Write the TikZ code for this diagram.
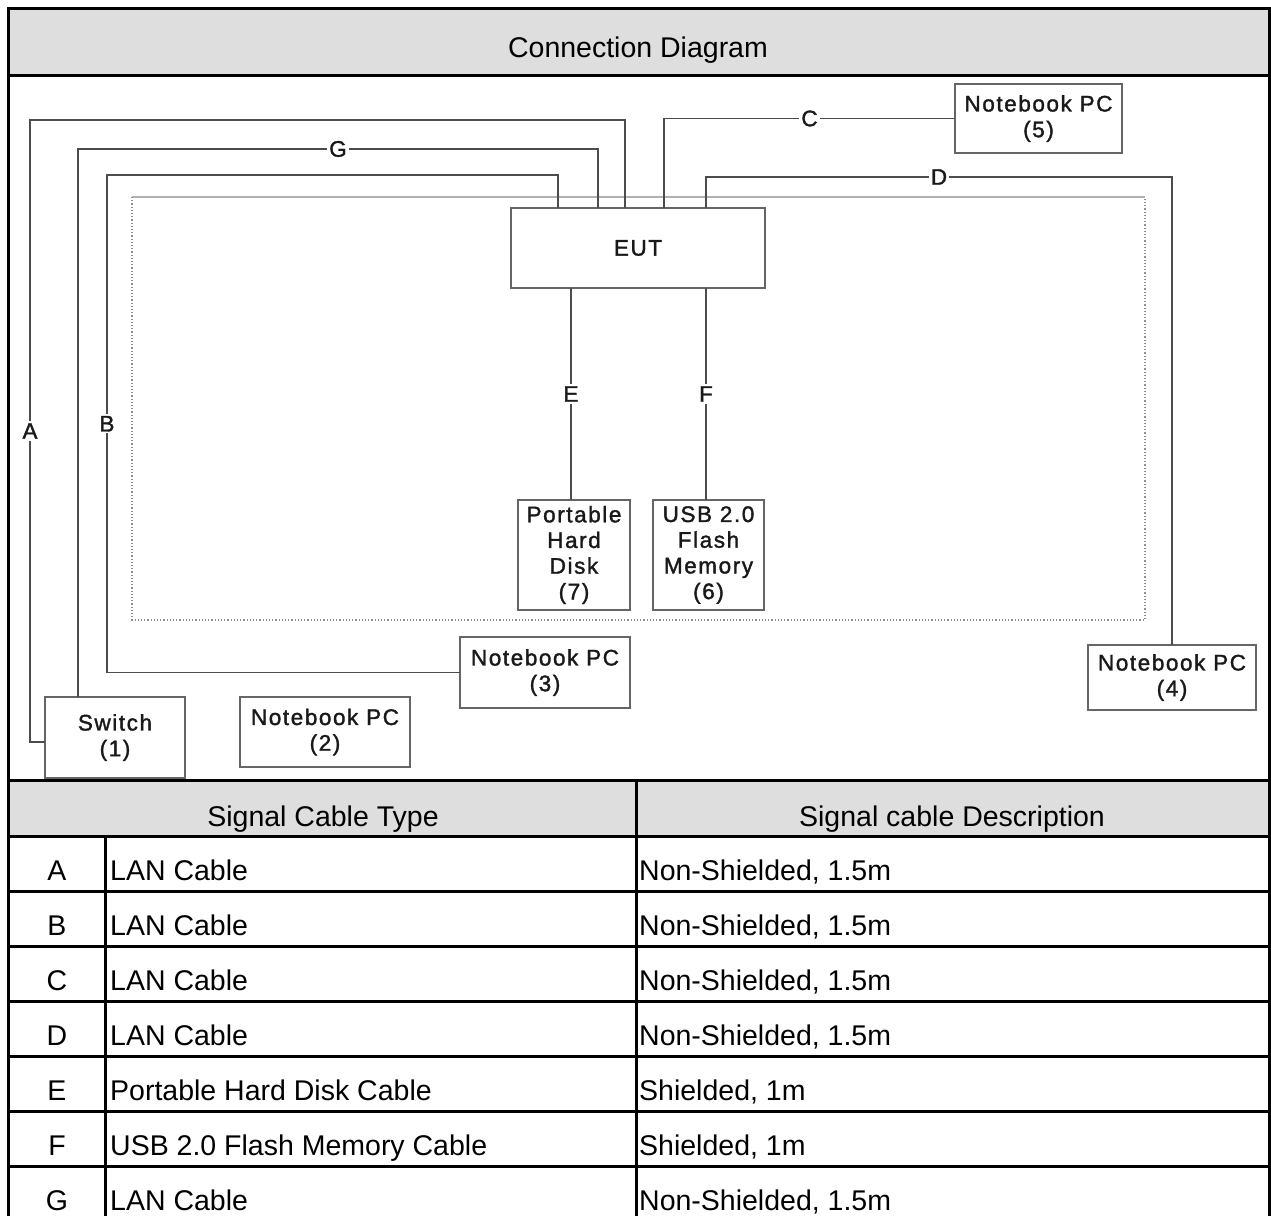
\documentclass[tikz,border=0pt]{standalone}
\usepackage{fontspec}
\setmainfont{Liberation Sans}
\newfontfamily\dgfont[LetterSpace=7,FakeBold=1.5]{Liberation Sans}
\begin{document}
\begin{tikzpicture}[x=1pt,y=-1pt,
  frame/.style={line width=3pt, draw=black},
  hdr/.style={fill=black!13},
  cable/.style={draw=black!70, line width=1.4pt},
  dbox/.style={draw=black!60, line width=1.4pt, fill=white, align=center, inner sep=0pt, outer sep=0pt, font=\dgfont\fontsize{22.5}{25.7}\selectfont, text=black!90},
  lbl/.style={fill=white, inner sep=2pt, font=\dgfont\fontsize{22.5}{24}\selectfont, text=black!90},
  ttxt/.style={font=\fontsize{28.5}{34}\selectfont, inner sep=0pt},
]
\useasboundingbox (0,0) rectangle (1271,1215);
% header bands
\fill[hdr] (8,9) rectangle (1269,75);
\fill[hdr] (8,780) rectangle (1269,836);
\node[ttxt, anchor=base] (title) at (638,57) {Connection Diagram};

% dotted area
\draw[black!30, line width=1.2pt] (132,197) -- (1145,197);
\draw[black!45, dotted, line width=1.2pt] (132,197) -- (132,620) -- (1145,620) -- (1145,197);

% boxes
\node[dbox, minimum width=254, minimum height=80] (eut) at (638,248) {EUT};
\node[dbox, minimum width=112, minimum height=110] (hd) at (574,555) {Portable\\Hard\\Disk\\(7)};
\node[dbox, minimum width=111, minimum height=110] (usb) at (708.5,555) {USB 2.0\\Flash\\Memory\\(6)};
\node[dbox, minimum width=167, minimum height=69] (nb5) at (1038.5,118.5) {Notebook PC\\(5)};
\node[dbox, minimum width=170, minimum height=71] (nb3) at (545,672.5) {Notebook PC\\(3)};
\node[dbox, minimum width=168, minimum height=65] (nb4) at (1172,677.5) {Notebook PC\\(4)};
\node[dbox, minimum width=140, minimum height=81] (sw) at (115,737.5) {Switch\\(1)};
\node[dbox, minimum width=170, minimum height=70] (nb2) at (325,732) {Notebook PC\\(2)};

% cables
\draw[cable] (sw.west |- 0,742) -- (30,742) -- node[lbl]{A} (30,120) -- (625,120) -- (625,0 |- eut.north);
\draw[cable] (78,0 |- sw.north) -- (78,149) -- node[lbl]{G} (598,149) -- (598,0 |- eut.north);
\draw[cable] (nb3.west) -- (107,0 |- nb3.west) -- node[lbl]{B} (107,175) -- (558,175) -- (558,0 |- eut.north);
\draw[cable] (664,0 |- eut.north) -- (664,0 |- nb5.west) -- node[lbl]{C} (nb5.west);
\draw[cable] (706,0 |- eut.north) -- (706,177) -- node[lbl]{D} (nb4.north |- 0,177) -- (nb4.north);
\draw[cable] (571,0 |- eut.south) -- node[lbl]{E} (571,0 |- hd.north);
\draw[cable] (706,0 |- eut.south) -- node[lbl]{F} (706,0 |- usb.north);

% table text
\node[ttxt, anchor=base] (h1) at (323,826) {Signal Cable Type};
\node[ttxt, anchor=base] (h2) at (952,826) {Signal cable Description};
\foreach \k/\t/\d [count=\i from 0] in {A/LAN Cable/{Non-Shielded, 1.5m},B/LAN Cable/{Non-Shielded, 1.5m},C/LAN Cable/{Non-Shielded, 1.5m},D/LAN Cable/{Non-Shielded, 1.5m},E/Portable Hard Disk Cable/{Shielded, 1m},F/USB 2.0 Flash Memory Cable/{Shielded, 1m},G/LAN Cable/{Non-Shielded, 1.5m}}{
  \node[ttxt, anchor=base] (k\i) at (57,{880+55*\i}) {\k};
  \node[ttxt, anchor=base west] (t\i) at (110,{880+55*\i}) {\t};
  \node[ttxt, anchor=base west] (d\i) at (639,{880+55*\i}) {\d};
}

% table and frame lines
\foreach \yy in {75,780,836,891,946,1001,1056,1111,1166}{
  \draw[frame] (8,\yy) -- (1269,\yy);
}
\draw[frame] (636,780) -- (636,1216);
\draw[frame] (105,836) -- (105,1216);
\draw[frame, line cap=rect] (8,1216) -- (8,9) -- (1269,9) -- (1269,1216);
\end{tikzpicture}
\end{document}
